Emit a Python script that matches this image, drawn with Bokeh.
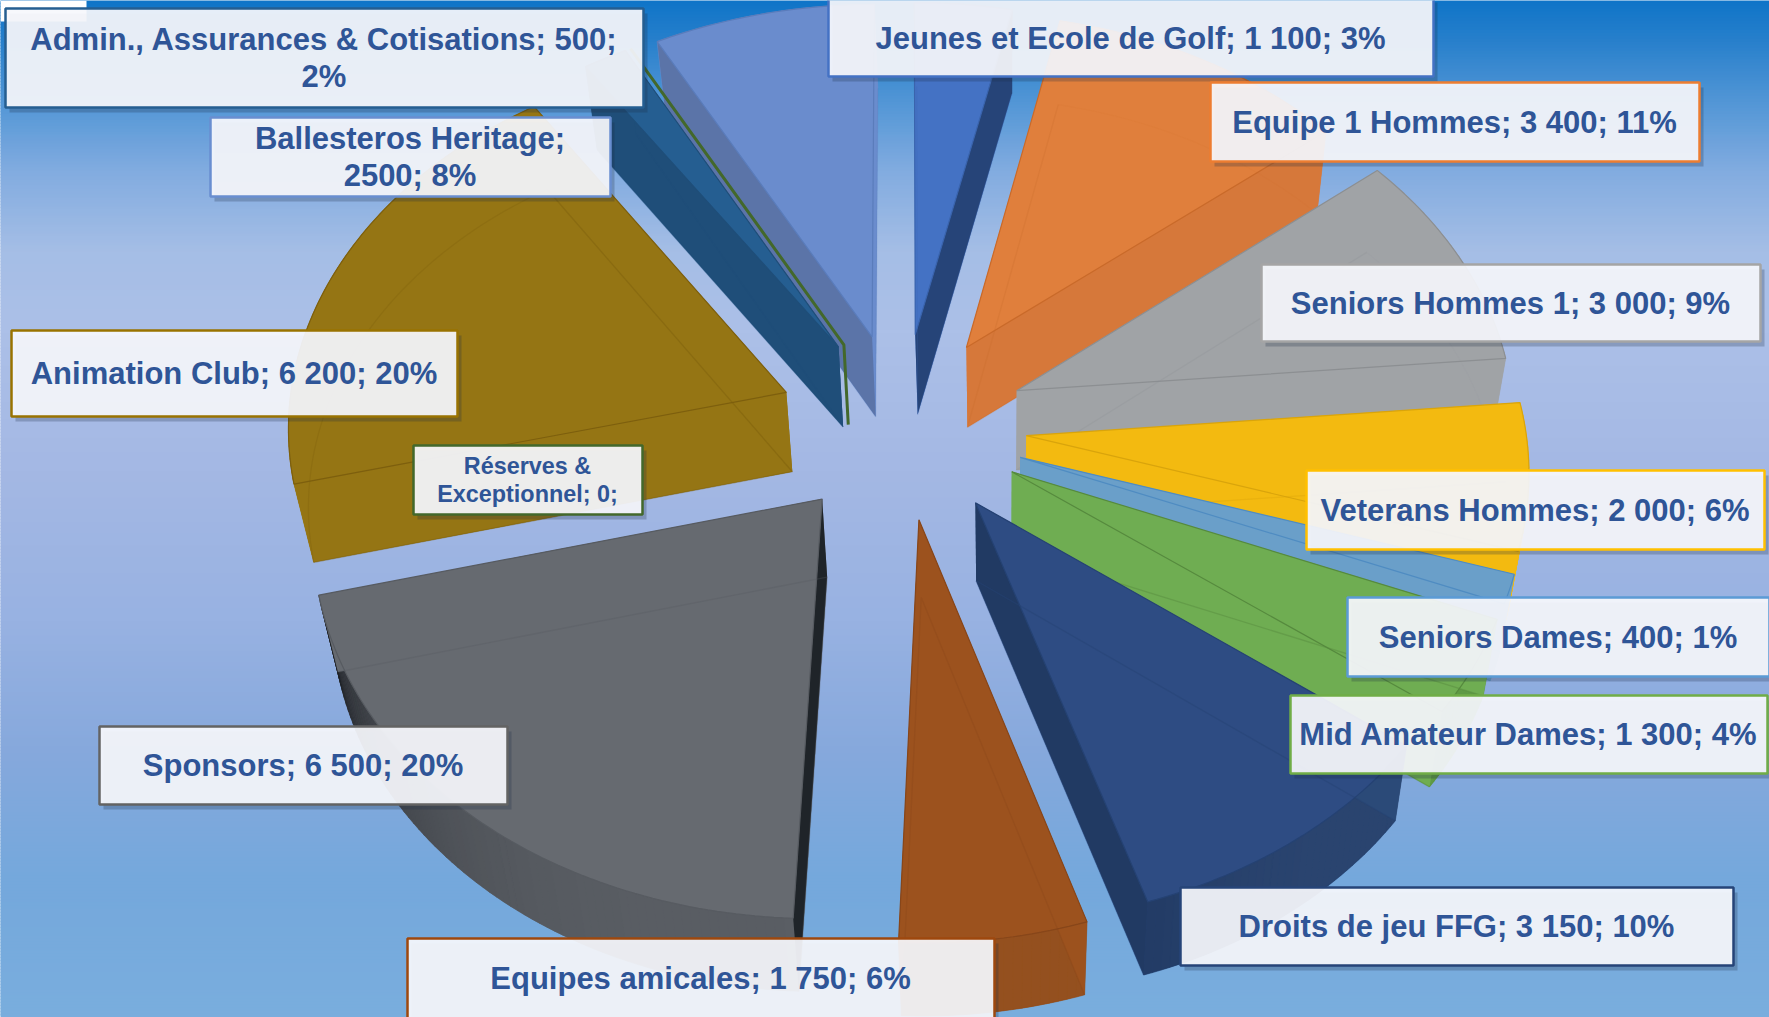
import numpy as np
from bokeh.plotting import figure
from bokeh.models import ColumnDataSource, Range1d
from bokeh.core.properties import value
from bokeh.embed import file_html
from bokeh.resources import INLINE

# ---- data (clockwise from 12 o'clock) ----
categories = ["Jeunes et Ecole de Golf", "Equipe 1 Hommes", "Seniors Hommes 1", "Veterans Hommes",
              "Seniors Dames", "Mid Amateur Dames", "Droits de jeu FFG", "Equipes amicales",
              "Sponsors", "Animation Club", "Admin., Assurances & Cotisations",
              "Réserves & Exceptionnel", "Ballesteros Heritage"]
values = [1100, 3400, 3000, 2000, 400, 1300, 3150, 1750, 6500, 6200, 500, 0, 2500]
top_colors = ["#4472c4", "#e07f3c", "#a0a3a6", "#f3ba10", "#6a9fc9", "#6fad52", "#2e4c83", "#9c521e",
              "#666a70", "#957514", "#255e91", "#43682b", "#6a8ccd"]
start_wall = ["#4472c4", "#d6783a", "#a0a3a6", "#f3ba10", "#6a9fc9", "#6fad52", "#2b4a78", "#9c521e",
              "#1f2429", "#957514", "#1f4e79", "#43682b", "#5b74a8"]
end_wall = ["#264478", "#d6783a", "#a0a3a6", "#f3ba10", "#6a9fc9", "#6fad52", "#213a63", "#9c521e",
            "#666a70", "#957514", "#1f4e79", "#43682b", "#6a8ccd"]
rim_a = ["#264478", "#d6783a", "#a0a3a6", "#f3ba10", "#6a9fc9", "#5f9a45", "#2b4570", "#94501f",
         "#5a5e64", "#957514", "#1f4e79", "#43682b", "#6a8ccd"]
rim_b = ["#264478", "#d6783a", "#a0a3a6", "#f3ba10", "#6a9fc9", "#5f9a45", "#233c66", "#94501f",
         "#1e2126", "#957514", "#1f4e79", "#43682b", "#6a8ccd"]
edge_colors = ["#3a64ad", "#c96a2a", "#8c8f92", "#d9a40c", "#4f8cc2", "#568a3e", "#254273", "#87461a",
               "#575b61", "#7d5f0e", "#1f4e79", "#43682b", "#5a7cbb"]
hidden_alpha = [0.2, 0.25, 0.25, 0.35, 0.5, 0.45, 0.45, 0.3, 0.3, 0.45, 0.5, 0.5, 0.2]
arc_alpha = [0.0, 0.06, 0.06, 0.0, 0.0, 0.2, 0.12, 0.1, 0.0, 0.3, 0.0, 0.0, 0.0]

label_lines = [["Jeunes et Ecole de Golf; 1 100; 3%"], ["Equipe 1 Hommes; 3 400; 11%"],
               ["Seniors Hommes 1; 3 000; 9%"], ["Veterans Hommes; 2 000; 6%"],
               ["Seniors Dames; 400; 1%"], ["Mid Amateur Dames; 1 300; 4%"],
               ["Droits de jeu FFG; 3 150; 10%"], ["Equipes amicales; 1 750; 6%"],
               ["Sponsors; 6 500; 20%"], ["Animation Club; 6 200; 20%"],
               ["Admin., Assurances & Cotisations; 500;", "2%"],
               ["Réserves &", "Exceptionnel; 0;"], ["Ballesteros Heritage;", "2500; 8%"]]
label_left = [828, 1210, 1261, 1306, 1347, 1290, 1180, 407, 99, 11, 5, 413, 210]
label_right = [1433, 1699, 1760, 1764, 1769, 1767, 1733, 994, 507, 457, 643, 642, 610]
label_top = [-3, 82, 264, 470, 597, 695, 887, 938, 726, 330, 8, 445, 117]
label_bottom = [76, 161, 341, 549, 676, 773, 965, 1020, 804, 416, 107, 514, 196]
label_border = ["#4472c4", "#ed7d31", "#a5a5a5", "#ffc000", "#5b9bd5", "#70ad47", "#264478", "#9e480e",
                "#636363", "#997300", "#255e91", "#43682b", "#698ed0"]
label_font = [31, 31, 31, 31, 31, 31, 31, 31, 31, 31, 31, 23.4, 31]

# background stops: page y, colour
bg_y = [0, 40, 100, 170, 250, 330, 470, 620, 760, 880, 1017]
bg_rgb = [(15, 117, 200), (40, 128, 204), (82, 150, 214), (130, 172, 224), (165, 190, 230), (172, 192, 232),
          (164, 184, 228), (152, 178, 226), (133, 168, 220), (117, 168, 220), (122, 174, 222)]

# ---- projection of the tilted, exploded pie ----
CX, CY, RX, RY, K, EXPL = 901.5, 425.0, 499.0, 373.0, 0.081, 0.25


def project(X, Y, low=False):
    X, Y = np.asarray(X, float), np.asarray(Y, float)
    w = 1 / (1 + K * Y)
    sx, sy = CX + RX * X * w, CY - RY * Y * w
    if low:
        sx, sy = sx + 0.028 * (1000 - sx), sy + 84 - 0.012 * sy
    return sx, sy


def hex2rgb(h):
    return np.array([int(h[i:i + 2], 16) for i in (1, 3, 5)], float)


W, H = 1769, 1017
p = figure(width=W, height=H, x_range=Range1d(0, W), y_range=Range1d(H, 0),
           output_backend="svg", toolbar_location=None, min_border=0)
p.xaxis.visible = False
p.yaxis.visible = False
p.xgrid.visible = False
p.ygrid.visible = False
p.outline_line_color = None

# background gradient, as thin overlapping bands
band_top = np.arange(0, H, 3)
band_rgb = [np.interp(band_top, bg_y, [c[k] for c in bg_rgb]) for k in range(3)]
band_col = ["#%02x%02x%02x" % (int(r), int(g), int(b)) for r, g, b in zip(*band_rgb)]
p.quad(left=-5, right=W + 5, top=band_top - 1, bottom=band_top + 4, fill_color=band_col, line_color=None)
p.quad(left=[0], right=[86], top=[0], bottom=[21], fill_color="#ffffff", line_color=None)

# ---- slices ----
total = sum(values)
cum = np.cumsum([0] + values) / total * 360.0
mids = (cum[:-1] + cum[1:]) / 2
order = np.argsort(-np.cos(np.radians(mids)), kind="stable")

for i in order:
    a0, a1, mid = np.radians(cum[i]), np.radians(cum[i + 1]), np.radians(mids[i])
    ax, ay = EXPL * np.sin(mid), EXPL * np.cos(mid)
    n = max(2, int(np.degrees(a1 - a0)) + 2)
    th = np.linspace(a0, a1, n)
    rx, ry = ax + np.sin(th), ay + np.cos(th)
    tx, ty = project(rx, ry)
    bx, by = project(rx, ry, True)
    atx, aty = float(project(ax, ay)[0]), float(project(ax, ay)[1])
    abx, aby = float(project(ax, ay, True)[0]), float(project(ax, ay, True)[1])
    col, ed = top_colors[i], edge_colors[i]

    if values[i] == 0:
        p.line([tx[0], atx, abx], [ty[0], aty, aby], line_color=col, line_width=3)
        continue

    # bottom face
    p.patch(np.r_[abx, bx], np.r_[aby, by], fill_color=col, line_color=None)
    # rim
    ca, cb = hex2rgb(rim_a[i]), hex2rgb(rim_b[i])
    for j in range(n - 1):
        t = (j / max(1, n - 2)) ** 3
        c = ca + (cb - ca) * t
        hx = "#%02x%02x%02x" % tuple(int(v) for v in c)
        p.patch([tx[j], tx[j + 1], bx[j + 1], bx[j]], [ty[j], ty[j + 1], by[j + 1], by[j]],
                fill_color=hx, line_color=hx, line_width=0.6)
    # radial walls: the darker one is the one facing the viewer, so it goes last
    walls = [(tx[0], bx[0], ty[0], by[0], start_wall[i]), (tx[-1], bx[-1], ty[-1], by[-1], end_wall[i])]
    walls.sort(key=lambda w: -hex2rgb(w[4]).sum())
    for wx, wbx, wy, wby, wc in walls:
        p.patch([atx, wx, wbx, abx], [aty, wy, wby, aby], fill_color=wc, line_color=None)
    # top face
    p.patch(np.r_[atx, tx], np.r_[aty, ty], fill_color=col, line_color=ed, line_width=1.2)
    # edges of the lower plane, showing through
    p.line([bx[0], abx, bx[-1]], [by[0], aby, by[-1]], line_color=ed, line_width=1.3, line_alpha=hidden_alpha[i])
    if arc_alpha[i] > 0:
        p.line(bx, by, line_color=ed, line_width=1.2, line_alpha=arc_alpha[i])

# ---- data labels ----
shadow = dict(fill_color="#1a2a44", fill_alpha=0.25, line_color=None)
tx_, ty_, tt_, tf_ = [], [], [], []
for i in range(len(values)):
    l, r, t, b = label_left[i], label_right[i], label_top[i], label_bottom[i]
    p.quad(left=[l + 4], right=[r + 4], top=[t + 5], bottom=[b + 5], **shadow)
    p.quad(left=[l], right=[r], top=[t], bottom=[b], fill_color="#f6f8fc", fill_alpha=0.93,
           line_color=label_border[i], line_width=2.5)
    lines = label_lines[i]
    cy_ = (max(t, 0) + min(b, H)) / 2
    step = label_font[i] * 1.17
    for k, s in enumerate(lines):
        tx_.append((l + r) / 2 - 0.5)
        ty_.append(cy_ + (k - (len(lines) - 1) / 2) * step)
        tt_.append(s)
        tf_.append(f"{label_font[i]}px")
src = ColumnDataSource(dict(x=tx_, y=ty_, t=tt_, f=tf_))
p.text(x="x", y="y", text="t", text_font=value("Liberation Sans"), text_font_style="bold", text_font_size="f",
       text_color="#2f5597", text_align="center", text_baseline="middle", source=src)

open("out.html", "w").write(file_html(p, INLINE))
